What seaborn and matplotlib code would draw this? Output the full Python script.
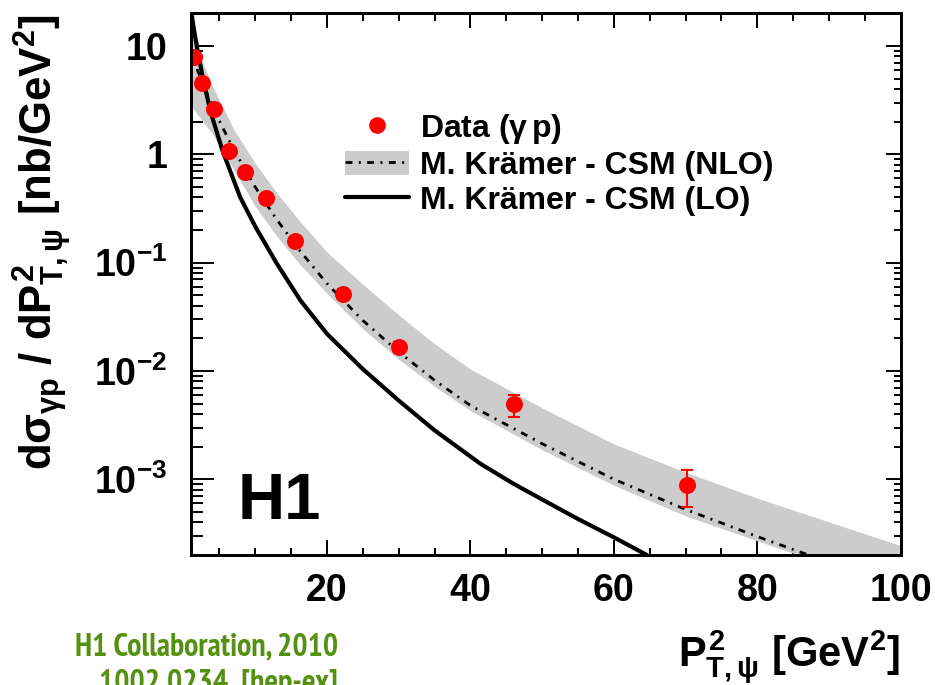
import numpy as np
import pandas as pd
import matplotlib
matplotlib.use("Agg")
import matplotlib.pyplot as plt
import seaborn as sns
from matplotlib.lines import Line2D
from matplotlib.patches import Patch
from matplotlib import font_manager
from matplotlib.font_manager import FontProperties
import matplotlib.ticker as mticker

# ---------------- data ----------------
data_x = [1.46, 2.6, 4.3, 6.35, 8.6, 11.5, 15.6, 22.2, 30.0, 46.1, 70.2]
data_y = [7.9, 4.57, 2.6, 1.08, 0.68, 0.395, 0.158, 0.0516, 0.0165, 0.0049, 0.00089]
err_lo = [0.5, 0.3, 0.15, 0.07, 0.045, 0.03, 0.012, 0.005, 0.002, 0.00116, 0.00034]
err_hi = [0.5, 0.3, 0.15, 0.07, 0.045, 0.03, 0.012, 0.005, 0.002, 0.0011, 0.00034]

lo_x = [1.0, 1.46, 2.0, 2.76, 3.7, 5.4, 7.9, 10.0, 13.0, 16.3, 20.0, 25.0, 30.0, 35.0, 41.4, 46.0,
        50.7, 55.0, 60.0, 64.6]
lo_y = [22, 14.0, 8.7, 4.84, 2.56, 1.09, 0.40, 0.215, 0.098, 0.0447, 0.022, 0.0104, 0.00533, 0.00283,
        0.00139, 0.00091, 0.000614, 0.00043, 0.000291, 0.0002]

nlo_x = [1, 2, 4, 7, 10, 13, 16, 20, 25, 30, 35, 40, 50, 60, 70, 80, 90, 100]
nlo_y = [9.5, 5.8, 2.75, 1.1, 0.497, 0.249, 0.134, 0.064, 0.0292, 0.0150, 0.0082, 0.0048, 0.00213, 0.001,
         0.000527, 0.000296, 0.000171, 0.0001]
nlo_up = [15, 9.0, 4.3, 1.7, 0.82, 0.44, 0.25, 0.125, 0.063, 0.0329, 0.0178, 0.0104, 0.00456, 0.00212,
          0.00116, 0.00067, 0.000404, 0.000244]
nlo_dn = [2.85, 2.3, 1.55, 0.72, 0.33, 0.175, 0.1, 0.052, 0.0245, 0.0128, 0.0072, 0.0043, 0.00187, 0.00088,
          0.00046, 0.00027, 0.00016, 0.000095]

y_ticks = [1e-3, 1e-2, 1e-1, 1, 10]
y_ticklabels = [r'$10^{-3}$', r'$10^{-2}$', r'$10^{-1}$', '1', '10']
x_ticks = [20, 40, 60, 80, 100]
x_ticklabels = ['20', '40', '60', '80', '100']

legend_labels = ['Data ($\\gamma\\,$p)', 'M. Kr\u00e4mer - CSM (NLO)', 'M. Kr\u00e4mer - CSM (LO)']
credit_lines = ['H1 Collaboration, 2010', '1002.0234  [hep-ex]']

# ---------------- style ----------------
sns.set_theme(style='ticks')
FONT = 'Liberation Sans'
plt.rcParams['font.family'] = [FONT, 'DejaVu Sans']
plt.rcParams['font.weight'] = 'bold'
for k in ['text.color', 'axes.labelcolor', 'xtick.color', 'ytick.color', 'axes.edgecolor']:
    plt.rcParams[k] = 'black'
plt.rcParams['mathtext.fontset'] = 'custom'
plt.rcParams['mathtext.rm'] = FONT + ':bold'
plt.rcParams['mathtext.it'] = FONT + ':bold'
plt.rcParams['mathtext.bf'] = FONT + ':bold'
plt.rcParams['mathtext.sf'] = FONT + ':bold'

# narrow bold font for the credit text if available, otherwise a smaller Liberation Sans
narrow_file = None
for f in font_manager.fontManager.ttflist:
    if 'narrow' in f.name.lower() and 'bold' in f.fname.lower() and 'italic' not in f.fname.lower():
        narrow_file = f.fname
        break
if narrow_file:
    narrow_fp = FontProperties(fname=narrow_file, size=23)
else:
    narrow_fp = FontProperties(family=FONT, weight='bold', size=18.7)

fig = plt.figure(figsize=(9.35, 6.85), dpi=100)
ax = fig.add_axes([0.204, 0.1898, 0.7593, 0.7908])

# band
ax.fill_between(nlo_x, nlo_dn, nlo_up, color='#cccccc', lw=0, zorder=1)
dashdot = (0, (2.5, 2.3, 0.7, 2.3))
nlo_df = pd.DataFrame({'x': nlo_x, 'y': nlo_y})
sns.lineplot(data=nlo_df, x='x', y='y', ax=ax, color='black', lw=2.0, linestyle=dashdot, zorder=3)
lo_df = pd.DataFrame({'x': lo_x, 'y': lo_y})
sns.lineplot(data=lo_df, x='x', y='y', ax=ax, color='black', lw=3.0, zorder=3)

ax.errorbar(data_x, data_y, yerr=[err_lo, err_hi], fmt='none', ecolor='red', elinewidth=1.5,
            capsize=4.5, capthick=1.5, zorder=4)
dat_df = pd.DataFrame({'x': data_x, 'y': data_y})
sns.scatterplot(data=dat_df, x='x', y='y', ax=ax, color='red', s=150, linewidth=0, zorder=5)

ax.set_yscale('log')
ax.set_xlim(1, 100)
ax.set_ylim(2e-4, 20)
ax.set_xlabel('')
ax.set_ylabel('')

ax.yaxis.set_major_locator(mticker.FixedLocator(y_ticks))
ax.yaxis.set_major_formatter(mticker.FixedFormatter(y_ticklabels))
ax.yaxis.set_minor_locator(mticker.LogLocator(base=10, subs=np.arange(2, 10)))
ax.yaxis.set_minor_formatter(mticker.NullFormatter())
ax.xaxis.set_major_locator(mticker.FixedLocator(x_ticks))
ax.xaxis.set_major_formatter(mticker.FixedFormatter(x_ticklabels))
ax.xaxis.set_minor_locator(mticker.MultipleLocator(5))

for sp in ax.spines.values():
    sp.set_linewidth(1.8)
    sp.set_color('black')
    sp.set_visible(True)

ax.tick_params(axis='y', which='major', direction='in', length=16.5, width=1.4, pad=17,
               labelsize=27, left=True, right=False, labelcolor='black')
ax.tick_params(axis='y', which='minor', direction='in', length=8.6, width=1.4, left=True, right=False)
ax.tick_params(axis='x', which='major', direction='in', length=10.8, width=1.4, pad=13,
               labelsize=27, bottom=True, top=False, labelcolor='black')
ax.tick_params(axis='x', which='minor', direction='in', length=5.4, width=1.4, bottom=True, top=False)
for lab in ax.get_xticklabels() + ax.get_yticklabels():
    lab.set_fontweight('bold')

# top / right ticks through twin axes
axr = ax.twinx()
axr.set_yscale('log')
axr.set_ylim(ax.get_ylim())
axr.yaxis.set_major_locator(mticker.FixedLocator(y_ticks))
axr.yaxis.set_minor_locator(mticker.LogLocator(base=10, subs=np.arange(2, 10)))
axr.yaxis.set_major_formatter(mticker.NullFormatter())
axr.yaxis.set_minor_formatter(mticker.NullFormatter())
axr.tick_params(axis='y', which='major', direction='in', length=10.8, width=1.4, right=True, left=False)
axr.tick_params(axis='y', which='minor', direction='in', length=5.4, width=1.4, right=True, left=False)
axr.tick_params(axis='x', which='both', bottom=False, top=False, labelbottom=False)

axt = ax.twiny()
axt.set_xlim(ax.get_xlim())
axt.xaxis.set_major_locator(mticker.FixedLocator(x_ticks))
axt.xaxis.set_minor_locator(mticker.MultipleLocator(5))
axt.xaxis.set_major_formatter(mticker.NullFormatter())
axt.tick_params(axis='x', which='major', direction='in', length=10.8, width=1.4, top=True, bottom=False)
axt.tick_params(axis='x', which='minor', direction='in', length=5.4, width=1.4, top=True, bottom=False)
axt.tick_params(axis='y', which='both', left=False, right=False, labelleft=False)
for a in (axr, axt):
    for sp in a.spines.values():
        sp.set_linewidth(1.8)
        sp.set_color('black')

# axis labels
fig.text(0.046, 1 - 242 / 685,
         r'd$\sigma_{\gamma p}$ / d$P^{2}_{T,\psi}$ [nb/GeV$^{2}$]',
         rotation=90, ha='center', va='center', fontsize=31.5, fontweight='bold')
fig.text(900 / 935, 1 - 667 / 685, r'$P^{2}_{T,\psi}$ [GeV$^{2}$]',
         ha='right', va='baseline', fontsize=30, fontweight='bold')

# H1 label
ax.text(0.066, 0.067, 'H1', transform=ax.transAxes, ha='left', va='baseline',
        fontsize=47, fontweight='bold')

# green credits
fig.text(338 / 935, 1 - 655 / 685, credit_lines[0], ha='right', va='baseline',
         fontproperties=narrow_fp, color='#559111')
fig.text(338 / 935, 1 - 692 / 685, credit_lines[1], ha='right', va='baseline',
         fontproperties=narrow_fp, color='#559111')

# legend
h_data = Line2D([], [], marker='o', color='red', linestyle='none', markersize=12, markeredgewidth=0)
h_nlo = (Patch(facecolor='#cccccc', edgecolor='none'),
         Line2D([], [], color='black', lw=2.0, linestyle=dashdot))
h_lo = Line2D([], [], color='black', lw=3.0)
leg = ax.legend([h_data, h_nlo, h_lo], legend_labels, loc='upper left',
                bbox_to_anchor=(0.2173, 0.818), frameon=False, fontsize=23,
                handlelength=2.0, handleheight=0.8, handletextpad=0.35, labelspacing=0.15,
                borderpad=0, borderaxespad=0)
for t in leg.get_texts():
    t.set_fontweight('bold')
    t.set_color('black')

fig.savefig('out.png', dpi=100)
